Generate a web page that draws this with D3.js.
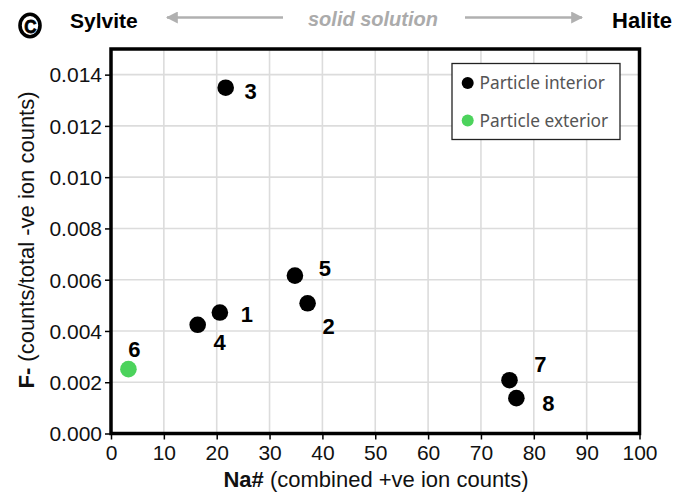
<!DOCTYPE html>
<html><head><meta charset="utf-8">
<script src="https://cdn.jsdelivr.net/npm/d3@7"></script>
<style>
html,body{margin:0;padding:0;background:#fff;}
svg{display:block;}
</style></head>
<body>
<svg id="chart" width="673" height="496"></svg>
<script>
// ---- data ----
const pointIds   = ["1","2","3","4","5","6","7","8"];
const naNumber   = [20.6, 37.2, 21.7, 16.4, 34.8, 3.3, 75.4, 76.7];
const fFraction  = [0.00472, 0.00508, 0.01349, 0.00424, 0.00616, 0.00251, 0.00208, 0.00138];
const pointGroup = ["interior","interior","interior","interior","interior","exterior","interior","interior"];
const groupNames = ["Particle interior", "Particle exterior"];
const xTicks = [0,10,20,30,40,50,60,70,80,90,100];
const yTicks = [0,0.002,0.004,0.006,0.008,0.010,0.012,0.014];
// label placement (pixel offsets from each point)
const labelDx = [27, 21, 25, 22, 30, 6, 31, 32];
const labelDy = [2, 23, 4, 18, -7, -20, -16, 5];

const svg = d3.select("#chart");
const L = 111, R = 639.5, T = 49, B = 433.5;
const x = d3.scaleLinear().domain([0,100]).range([L,R]);
const y = d3.scaleLinear().domain([0,0.015]).range([B,T]);
const color = {interior:"#000000", exterior:"#4cd35c"};
const numFont = "'Liberation Sans',Arial,Helvetica,sans-serif";
const axFont = "'Liberation Sans',Arial,Helvetica,sans-serif";

// grid
svg.append("g").selectAll("line").data(xTicks.slice(1,-1)).join("line")
  .attr("x1",d=>x(d)).attr("x2",d=>x(d)).attr("y1",T).attr("y2",B)
  .attr("stroke","#dcdcdc").attr("stroke-width",1.6);
svg.append("g").selectAll("line").data(yTicks.slice(1)).join("line")
  .attr("y1",d=>y(d)).attr("y2",d=>y(d)).attr("x1",L).attr("x2",R)
  .attr("stroke","#dcdcdc").attr("stroke-width",1.6);

// axes
const xAxis = svg.append("g").attr("transform",`translate(0,${B})`)
  .call(d3.axisBottom(x).tickValues(xTicks).tickFormat(d3.format("d")).tickSize(6).tickSizeOuter(0));
const yAxis = svg.append("g").attr("transform",`translate(${L},0)`)
  .call(d3.axisLeft(y).tickValues(yTicks).tickFormat(d3.format(".3f")).tickSize(6).tickSizeOuter(0));
[xAxis,yAxis].forEach(g=>{
  g.select(".domain").remove();
  g.selectAll(".tick line").attr("stroke","#000").attr("stroke-width",1.5);
  g.selectAll(".tick text").attr("font-family",axFont).attr("font-size",21).attr("fill","#111");
});
xAxis.selectAll(".tick text").attr("y",7).attr("dy","0.95em");
yAxis.selectAll(".tick text").attr("x",-9).attr("dy","0.35em");

// frame
svg.append("rect").attr("x",L).attr("y",T).attr("width",R-L).attr("height",B-T)
  .attr("fill","none").attr("stroke","#000").attr("stroke-width",3.5);

// points
const pts = pointIds.map((id,i)=>({id, x:naNumber[i], y:fFraction[i], g:pointGroup[i], dx:labelDx[i], dy:labelDy[i]}));
svg.append("g").selectAll("circle").data(pts).join("circle")
  .attr("cx",d=>x(d.x)).attr("cy",d=>y(d.y)).attr("r",8.3)
  .attr("fill",d=>color[d.g]);
svg.append("g").selectAll("text").data(pts).join("text")
  .attr("x",d=>x(d.x)+d.dx).attr("y",d=>y(d.y)+d.dy)
  .attr("text-anchor","middle").attr("dominant-baseline","central")
  .attr("font-family",numFont).attr("font-weight","bold").attr("font-size",22)
  .text(d=>d.id);

// legend
const lg = svg.append("g");
lg.append("rect").attr("x",452).attr("y",63.5).attr("width",168).attr("height",76)
  .attr("fill","#fff").attr("stroke","#222").attr("stroke-width",1.3);
groupNames.forEach((name,i)=>{
  const key = i===0?"interior":"exterior";
  const cy = 83 + i*37.5;
  lg.append("circle").attr("cx",467.7).attr("cy",cy).attr("r",6).attr("fill",color[key]);
  lg.append("text").attr("x",479.5).attr("y",cy).attr("dy","0.36em")
    .attr("font-family","'Noto Sans','DejaVu Sans',sans-serif").attr("font-size",17.3)
    .attr("fill","#555").text(name);
});

// axis titles
const xt = svg.append("text").attr("x",376).attr("y",487).attr("text-anchor","middle")
  .attr("font-family",axFont).attr("font-size",22).attr("fill","#111");
xt.append("tspan").attr("font-weight","bold").text("Na#");
xt.append("tspan").text(" (combined +ve ion counts)");
const yt = svg.append("text").attr("transform","translate(34,240) rotate(-90)").attr("text-anchor","middle")
  .attr("font-family",axFont).attr("font-size",22).attr("fill","#111");
yt.append("tspan").attr("font-weight","bold").text("F-");
yt.append("tspan").text(" (counts/total -ve ion counts)");

// header
svg.append("ellipse").attr("cx",30).attr("cy",25.5).attr("rx",10).attr("ry",11.2)
  .attr("fill","none").attr("stroke","#000").attr("stroke-width",3.6);
svg.append("text").attr("transform","translate(30.3,26.3) scale(0.9,1)").attr("text-anchor","middle").attr("dominant-baseline","central")
  .attr("font-family",numFont).attr("font-weight","900").attr("font-size",19).attr("stroke","#000").attr("stroke-width",0.8).text("C");
svg.append("text").attr("x",70).attr("y",28).attr("font-family",numFont).attr("font-weight","bold")
  .attr("font-size",21).attr("fill","#000").text("Sylvite");
svg.append("text").attr("x",672).attr("y",28).attr("text-anchor","end").attr("font-family",numFont).attr("font-weight","bold")
  .attr("font-size",22).attr("fill","#000").text("Halite");
svg.append("text").attr("x",373).attr("y",26).attr("text-anchor","middle").attr("font-family",numFont)
  .attr("font-weight","bold").attr("font-style","italic").attr("font-size",20).attr("fill","#ababab").text("solid solution");
const defs = svg.append("defs");
defs.append("marker").attr("id","ah").attr("viewBox","0 0 10 10").attr("refX",9).attr("refY",5)
  .attr("markerWidth",12).attr("markerHeight",12).attr("markerUnits","userSpaceOnUse").attr("orient","auto-start-reverse")
  .append("path").attr("d","M0,0 L10,5 L0,10 z").attr("fill","#b0b0b0");
svg.append("line").attr("x1",283).attr("x2",167).attr("y1",17.5).attr("y2",17.5)
  .attr("stroke","#b0b0b0").attr("stroke-width",2.5).attr("marker-end","url(#ah)");
svg.append("line").attr("x1",465).attr("x2",582).attr("y1",17.5).attr("y2",17.5)
  .attr("stroke","#b0b0b0").attr("stroke-width",2.5).attr("marker-end","url(#ah)");
</script>
</body></html>
